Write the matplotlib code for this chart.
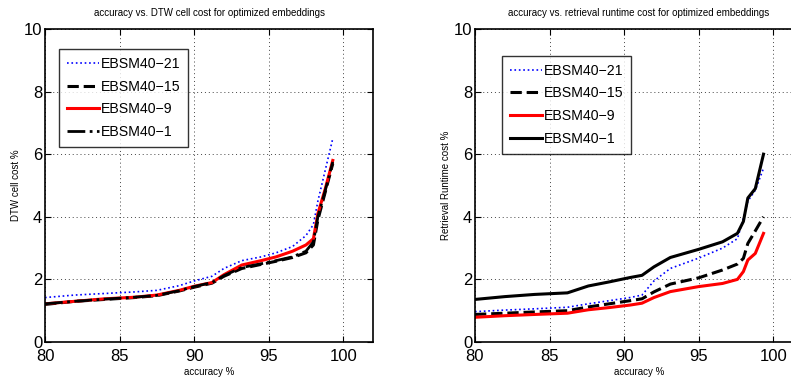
import matplotlib
matplotlib.use("Agg")
import matplotlib.pyplot as plt

plt.rcParams["font.family"] = ["Liberation Sans", "DejaVu Sans"]

# ----------------------------------------------------------------------
# Data
# ----------------------------------------------------------------------
LABELS = ["EBSM40\u221221", "EBSM40\u221215", "EBSM40\u22129", "EBSM40\u22121"]

# left panel: accuracy vs. DTW cell cost
acc_dtw = [80, 82, 84, 86, 87.5, 89, 90, 91.2, 92, 93.2, 94.5, 95.5, 96.6,
           97.5, 98.0, 98.3, 98.8, 99.3]
dtw_21 = [1.42, 1.5, 1.55, 1.6, 1.65, 1.8, 1.95, 2.1, 2.35, 2.6, 2.72, 2.85,
          3.05, 3.4, 3.75, 4.5, 5.5, 6.5]
dtw_15 = [1.2, 1.3, 1.36, 1.42, 1.48, 1.63, 1.75, 1.88, 2.1, 2.35, 2.48, 2.58,
          2.7, 2.85, 3.1, 3.9, 4.8, 5.7]
dtw_9 = [1.22, 1.3, 1.38, 1.43, 1.5, 1.65, 1.78, 1.9, 2.15, 2.46, 2.6, 2.72,
         2.9, 3.1, 3.3, 4.1, 4.9, 5.8]
dtw_1 = [1.22, 1.3, 1.37, 1.43, 1.49, 1.64, 1.77, 1.9, 2.12, 2.38, 2.5, 2.6,
         2.72, 2.9, 3.2, 4.0, 4.85, 5.75]

# right panel: accuracy vs. retrieval runtime cost
acc_rt = [80, 82, 84, 86.2, 87.6, 89, 90.4, 91.2, 92, 93.1, 95, 96.6, 97.6,
          98.0, 98.3, 98.8, 99.35]
rt_21 = [0.97, 1.02, 1.06, 1.11, 1.22, 1.32, 1.42, 1.5, 1.95, 2.35, 2.68, 3.0,
         3.3, 3.95, 4.5, 4.85, 5.55]
rt_15 = [0.88, 0.92, 0.96, 1.0, 1.12, 1.22, 1.32, 1.38, 1.6, 1.85, 2.05, 2.3,
         2.49, 2.67, 3.15, 3.55, 4.0]
rt_9 = [0.79, 0.84, 0.88, 0.92, 1.03, 1.1, 1.18, 1.24, 1.42, 1.61, 1.77, 1.87,
        2.0, 2.25, 2.62, 2.83, 3.47]
rt_1 = [1.36, 1.45, 1.52, 1.57, 1.79, 1.92, 2.06, 2.13, 2.4, 2.7, 2.96, 3.2,
        3.47, 3.85, 4.6, 4.9, 6.0]

X_TICKS = [80, 85, 90, 95, 100]
Y_TICKS = [0, 2, 4, 6, 8, 10]


def style_axes(ax, title, ylabel):
    ax.set_xlim(80, 102)
    ax.set_ylim(0, 10)
    ax.set_xticks(X_TICKS)
    ax.set_yticks(Y_TICKS)
    ax.tick_params(direction="in", top=True, right=True, labelsize=12,
                   length=4, width=0.8)
    ax.tick_params(axis="x", pad=5)
    ax.tick_params(axis="y", pad=2)
    ax.grid(True, linestyle=(0, (1, 3)), color="#444444", linewidth=0.7)
    for sp in ax.spines.values():
        sp.set_linewidth(1.2)
    ax.set_title(title, fontsize=7, pad=9)
    ax.set_xlabel("accuracy %", fontsize=7, labelpad=2)
    ax.set_ylabel(ylabel, fontsize=7, labelpad=2)


def add_legend(ax, handles, anchor):
    leg = ax.legend(handles=handles, labels=LABELS, loc="upper left",
                    bbox_to_anchor=anchor, fontsize=10.2, frameon=True,
                    fancybox=False, handlelength=2.3, handletextpad=0.1,
                    borderpad=0.55, labelspacing=0.62, borderaxespad=0)
    leg.get_frame().set_edgecolor("black")
    leg.get_frame().set_linewidth(1.0)


fig = plt.figure(figsize=(7.91, 3.79), dpi=100)
ax1 = fig.add_axes([0.0569, 0.0976, 0.4147, 0.826])
ax2 = fig.add_axes([0.6005, 0.0976, 0.4147, 0.826])

# left panel
h1, = ax1.plot(acc_dtw, dtw_21, color="blue", linestyle=":", linewidth=1.2)
h2, = ax1.plot(acc_dtw, dtw_15, color="black", linestyle="--", linewidth=2.2)
h3, = ax1.plot(acc_dtw, dtw_9, color="red", linestyle="-", linewidth=2.2)
h4, = ax1.plot(acc_dtw, dtw_1, color="black", linestyle="-.", linewidth=2.0)
style_axes(ax1, "accuracy vs. DTW cell cost for optimized embeddings",
           "DTW cell cost %")
add_legend(ax1, [h1, h2, h3, h4], (0.043, 0.936))

# right panel
g1, = ax2.plot(acc_rt, rt_21, color="blue", linestyle=":", linewidth=1.2)
g2, = ax2.plot(acc_rt, rt_15, color="black", linestyle="--", linewidth=2.2)
g3, = ax2.plot(acc_rt, rt_9, color="red", linestyle="-", linewidth=2.2)
g4, = ax2.plot(acc_rt, rt_1, color="black", linestyle="-", linewidth=2.2)
style_axes(ax2, "accuracy vs. retrieval runtime cost for optimized embeddings",
           "Retrieval Runtime cost %")
add_legend(ax2, [g1, g2, g3, g4], (0.082, 0.914))

fig.savefig("out.png", dpi=100)
